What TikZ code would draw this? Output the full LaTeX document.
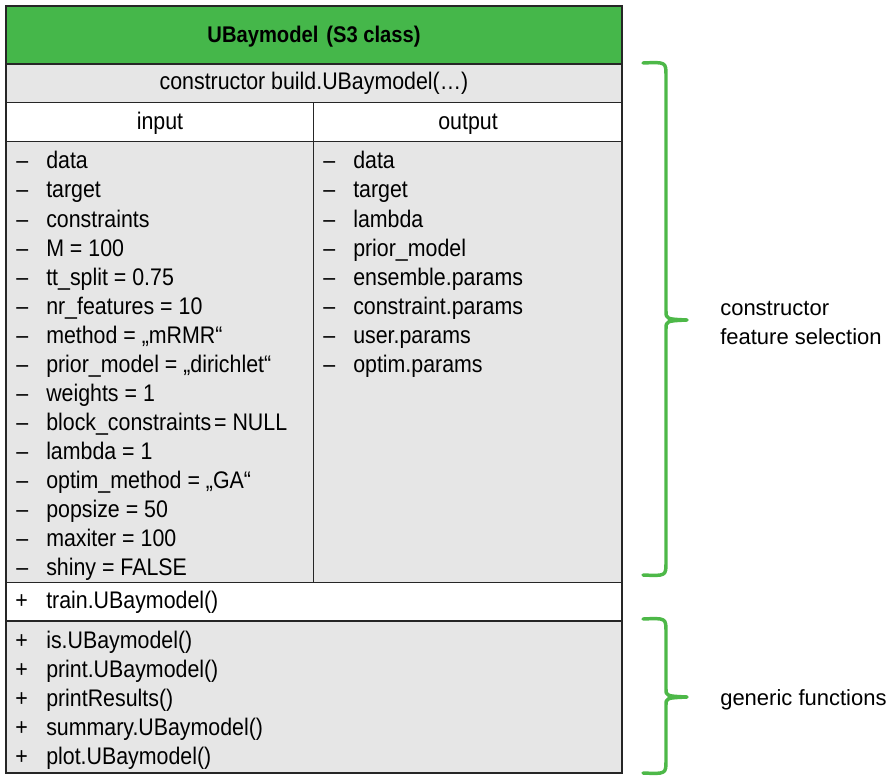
\documentclass[tikz,border=0pt]{standalone}
\usepackage{fontspec}
\setmainfont{Liberation Sans}[FakeStretch=0.89]
\newfontfamily\labelfont{Liberation Sans}
\definecolor{headgreen}{RGB}{69,183,74}
\definecolor{bracegreen}{RGB}{77,184,72}
\definecolor{rowgray}{RGB}{230,230,230}
\begin{document}
\begin{tikzpicture}[x=0.75pt,y=0.75pt,yscale=-1,xscale=1,
  item/.style={anchor=base west,inner sep=0pt,font=\fontsize{18}{21}\selectfont},
  cell/.style={anchor=base,inner sep=0pt,font=\fontsize{18}{21}\selectfont},
  note/.style={anchor=base west,inner sep=0pt,font=\labelfont\fontsize{16.5}{21.75}\selectfont},
  frame/.style={draw=black!85,line width=1.3pt},
  brace/.style={draw=bracegreen,line width=2.6pt,line cap=round,line join=round}]
\useasboundingbox (0,0) rectangle (892,781);

%Shape: Rectangle [header]
\draw [frame,fill=headgreen] (6,6) -- (622,6) -- (622,64) -- (6,64) -- cycle ;
%Shape: Rectangle [constructor row]
\draw [frame,fill=rowgray] (6,64) -- (622,64) -- (622,102.5) -- (6,102.5) -- cycle ;
%Shape: Rectangle [input/output row]
\draw [frame,fill=white] (6,102.5) -- (622,102.5) -- (622,141.5) -- (6,141.5) -- cycle ;
%Shape: Rectangle [argument lists]
\draw [frame,fill=rowgray] (6,141.5) -- (622,141.5) -- (622,582.5) -- (6,582.5) -- cycle ;
%Shape: Rectangle [train row]
\draw [frame,fill=white] (6,582.5) -- (622,582.5) -- (622,621) -- (6,621) -- cycle ;
%Shape: Rectangle [generic functions]
\draw [frame,fill=rowgray] (6,621) -- (622,621) -- (622,773) -- (6,773) -- cycle ;
%Straight Lines [column divider]
\draw [frame] (313.5,102.5) -- (313.5,582.5) ;

% Text Node
\draw (314,43) node (title) [cell,font=\bfseries\fontsize{17}{20}\selectfont] {UBaymodel\hspace{0.35em}(S3 class)};
% Text Node
\draw (314,90) node (ctor) [cell] {constructor build.UBaymodel(…)};
% Text Node
\draw (160,130) node (inhead) [cell] {input};
% Text Node
\draw (468,130) node (outhead) [cell] {output};

% Text Node
\draw (16,169) node (in1) [item] {\makebox[22.5pt][l]{–}data};
% Text Node
\draw (16,198) node (in2) [item] {\makebox[22.5pt][l]{–}target};
% Text Node
\draw (16,227) node (in3) [item] {\makebox[22.5pt][l]{–}constraints};
% Text Node
\draw (16,256) node (in4) [item] {\makebox[22.5pt][l]{–}M = 100};
% Text Node
\draw (16,285) node (in5) [item] {\makebox[22.5pt][l]{–}tt\_split = 0.75};
% Text Node
\draw (16,314) node (in6) [item] {\makebox[22.5pt][l]{–}nr\_features = 10};
% Text Node
\draw (16,343) node (in7) [item] {\makebox[22.5pt][l]{–}method = „mRMR“};
% Text Node
\draw (16,372) node (in8) [item] {\makebox[22.5pt][l]{–}prior\_model = „dirichlet“};
% Text Node
\draw (16,401) node (in9) [item] {\makebox[22.5pt][l]{–}weights = 1};
% Text Node
\draw (16,430) node (in10) [item] {\makebox[22.5pt][l]{–}block\_constraints\hspace{0.12em}= NULL};
% Text Node
\draw (16,459) node (in11) [item] {\makebox[22.5pt][l]{–}lambda = 1};
% Text Node
\draw (16,488) node (in12) [item] {\makebox[22.5pt][l]{–}optim\_method = „GA“};
% Text Node
\draw (16,517) node (in13) [item] {\makebox[22.5pt][l]{–}popsize = 50};
% Text Node
\draw (16,546) node (in14) [item] {\makebox[22.5pt][l]{–}maxiter = 100};
% Text Node
\draw (16,575) node (in15) [item] {\makebox[22.5pt][l]{–}shiny = FALSE};

% Text Node
\draw (323,169) node (out1) [item] {\makebox[22.5pt][l]{–}data};
% Text Node
\draw (323,198) node (out2) [item] {\makebox[22.5pt][l]{–}target};
% Text Node
\draw (323,227) node (out3) [item] {\makebox[22.5pt][l]{–}lambda};
% Text Node
\draw (323,256) node (out4) [item] {\makebox[22.5pt][l]{–}prior\_model};
% Text Node
\draw (323,285) node (out5) [item] {\makebox[22.5pt][l]{–}ensemble.params};
% Text Node
\draw (323,314) node (out6) [item] {\makebox[22.5pt][l]{–}constraint.params};
% Text Node
\draw (323,343) node (out7) [item] {\makebox[22.5pt][l]{–}user.params};
% Text Node
\draw (323,372) node (out8) [item] {\makebox[22.5pt][l]{–}optim.params};

% Text Node
\draw (15,608) node (train) [item] {\makebox[23.25pt][l]{+}train.UBaymodel()};

% Text Node
\draw (15,648) node (gen1) [item] {\makebox[23.25pt][l]{+}is.UBaymodel()};
% Text Node
\draw (15,677) node (gen2) [item] {\makebox[23.25pt][l]{+}print.UBaymodel()};
% Text Node
\draw (15,706) node (gen3) [item] {\makebox[23.25pt][l]{+}printResults()};
% Text Node
\draw (15,735) node (gen4) [item] {\makebox[23.25pt][l]{+}summary.UBaymodel()};
% Text Node
\draw (15,764) node (gen5) [item] {\makebox[23.25pt][l]{+}plot.UBaymodel()};

%Curve Lines [constructor brace]
\draw [brace] (643,63) .. controls (666,62) .. (666,76) -- (666,311) .. controls (666,319) .. (687,320) .. controls (666,321) .. (666,329) -- (666,562) .. controls (666,576) .. (643,575) ;
%Curve Lines [generic brace]
\draw [brace] (643,619) .. controls (666,618) .. (666,632) -- (666,689) .. controls (666,696) .. (687,697) .. controls (666,698) .. (666,705) -- (666,760) .. controls (666,774) .. (643,773) ;

% Text Node
\draw (720,315) node (lblctor) [note] {constructor};
% Text Node
\draw (720,344) node (lblfeat) [note] {feature selection};
% Text Node
\draw (720,705) node (lblgen) [note] {generic functions};

\end{tikzpicture}
\end{document}
